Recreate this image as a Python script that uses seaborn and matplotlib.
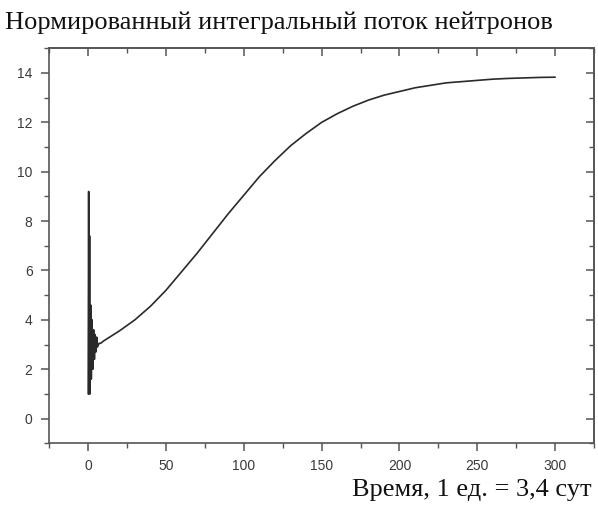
import matplotlib
matplotlib.use("Agg")
import matplotlib.pyplot as plt
import seaborn as sns
import numpy as np
from matplotlib.ticker import MultipleLocator

# time in units (1 unit = 3.4 days), normalised integral neutron flux
time_osc = [0.0, 0.3, 0.6, 0.9, 1.2, 1.6, 2.0, 2.5, 3.0, 3.5, 4.0, 4.5, 5.0, 5.5, 6.0, 7.0]
flux_osc = [1.0, 9.2, 1.0, 7.4, 1.0, 4.6, 1.6, 4.0, 2.0, 3.6, 2.4, 3.4, 2.7, 3.3, 2.9, 3.05]

time_main = [8, 10, 20, 30, 40, 50, 60, 70, 80, 90, 100, 110, 120, 130, 140, 150,
             160, 170, 180, 190, 200, 210, 220, 230, 240, 250, 260, 270, 280, 290, 300]
flux_main = [3.05, 3.15, 3.55, 4.0, 4.55, 5.2, 5.95, 6.7, 7.5, 8.3, 9.05, 9.8, 10.45,
             11.05, 11.55, 12.0, 12.35, 12.65, 12.9, 13.1, 13.25, 13.4, 13.5, 13.6,
             13.65, 13.7, 13.75, 13.78, 13.8, 13.82, 13.83]

title = "Нормированный интегральный поток нейтронов"
xlabel = "Время, 1 ед. = 3,4 сут"

t = np.array(time_osc + time_main)
flux = np.array(flux_osc + flux_main)

sns.set_style("ticks")
plt.rcParams['font.family'] = ['Liberation Sans', 'DejaVu Sans']

fig = plt.figure(figsize=(5.98, 5.11), dpi=100)
ax = fig.add_axes([0.0824, 0.1325, 0.911, 0.773])

sns.lineplot(x=t, y=flux, color="#2a2a2a", linewidth=1.2, ax=ax, sort=False)

ax.set_xlim(-25, 325)
ax.set_ylim(-1, 15)
ax.xaxis.set_major_locator(MultipleLocator(50))
ax.xaxis.set_minor_locator(MultipleLocator(25))
ax.yaxis.set_major_locator(MultipleLocator(2))
ax.yaxis.set_minor_locator(MultipleLocator(1))

spine_col = "#555555"
for s in ax.spines.values():
    s.set_color(spine_col)
    s.set_linewidth(1.2)
ax.tick_params(which="major", direction="out", length=6, width=1.1, color=spine_col,
               labelsize=10, labelcolor="#3a3a3a")
ax.tick_params(axis="x", which="major", pad=5)
ax.tick_params(axis="y", which="major", pad=6)
ax.tick_params(which="minor", direction="out", length=3.5, width=1.0, color=spine_col)

# mirrored inward ticks on top and right
top = ax.secondary_xaxis("top")
top.xaxis.set_major_locator(MultipleLocator(50))
top.xaxis.set_minor_locator(MultipleLocator(25))
top.tick_params(which="major", direction="in", length=6, width=1.1, color=spine_col, labeltop=False)
top.tick_params(which="minor", direction="in", length=3.5, width=1.0, color=spine_col)
top.spines["top"].set_color(spine_col)
top.spines["top"].set_linewidth(1.2)

right = ax.secondary_yaxis("right")
right.yaxis.set_major_locator(MultipleLocator(2))
right.yaxis.set_minor_locator(MultipleLocator(1))
right.tick_params(which="major", direction="in", length=6, width=1.1, color=spine_col, labelright=False)
right.tick_params(which="minor", direction="in", length=3.5, width=1.0, color=spine_col)
right.spines["right"].set_color(spine_col)
right.spines["right"].set_linewidth(1.2)

ax.set_xlabel("")
ax.set_ylabel("")

fig.text(0.008, 0.955, title, family=["Liberation Serif", "DejaVu Serif"],
         fontsize=19, ha="left", va="center", color="#111111")
fig.text(0.99, 0.042, xlabel, family=["Liberation Serif", "DejaVu Serif"],
         fontsize=19, ha="right", va="center", color="#111111")

fig.savefig("out.png", dpi=100, facecolor="white")
